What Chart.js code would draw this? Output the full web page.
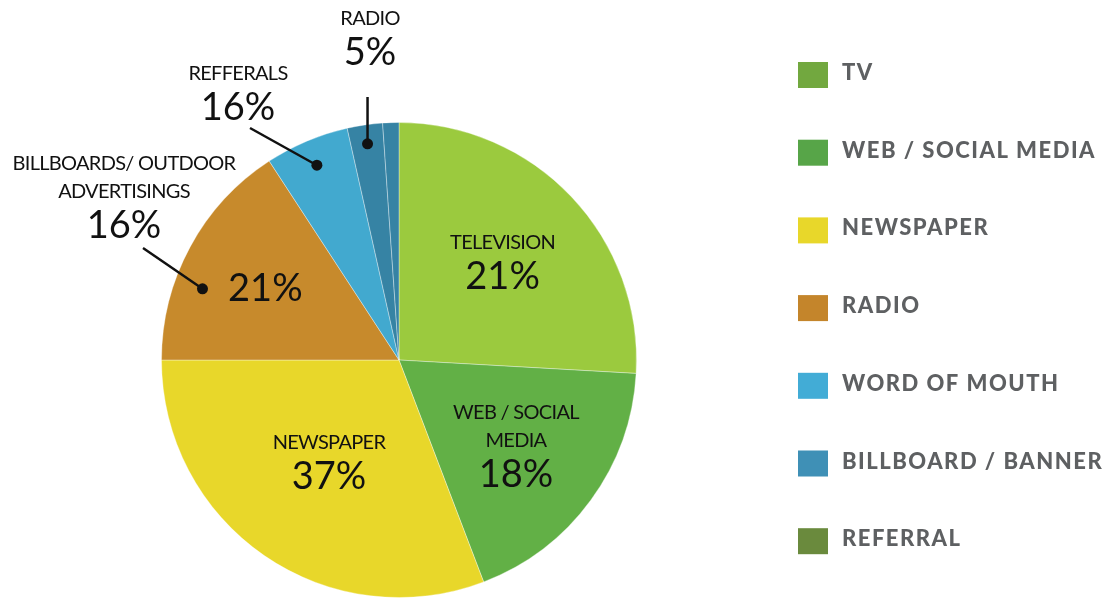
<!DOCTYPE html>
<html>
<head>
<meta charset="utf-8">
<script src="https://cdn.jsdelivr.net/npm/chart.js@4.4.1/dist/chart.umd.min.js"></script>
<style>
  html, body { margin: 0; padding: 0; background: #fff; }
  #wrap { width: 1107px; height: 600px; position: relative; }
</style>
</head>
<body>
<div id="wrap"><canvas id="mediaPie"></canvas></div>
<script>
// legend entries and slice shares
const channels = ['TV', 'WEB / SOCIAL MEDIA', 'NEWSPAPER', 'RADIO', 'WORD OF MOUTH', 'BILLBOARD / BANNER', 'REFERRAL'];
const shares = [25.9, 18.3, 30.8, 15.8, 5.7, 2.4, 1.1];
const sliceColors = ['#9bca3e', '#62b046', '#e8d72a', '#c78a2c', '#42a9cf', '#3683a4', '#3683a4'];
const legendColors = ['#72a83f', '#57a548', '#e8d72a', '#c4852b', '#42acd6', '#3f90b6', '#6a8a3d'];

// text printed inside the slices
const sliceTitles = [['TELEVISION'], ['WEB / SOCIAL', 'MEDIA'], ['NEWSPAPER'], [], [], [], []];
const slicePercents = ['21%', '18%', '37%', '21%', '', '', ''];

// text printed outside, pointing to a slice
const calloutTitles = [null, null, null, ['BILLBOARDS/ OUTDOOR', 'ADVERTISINGS'], ['REFFERALS'], ['RADIO'], null];
const calloutPercents = [null, null, null, '16%', '16%', '5%', null];

const FONT = 'Lato, "Open Sans", sans-serif';

// where labels sit relative to their slice
const insideDist = [0.6, 0.61, 0.52, 0.64];
const calloutLayout = {
  3: { along: 0.35, dist: 0.88, end: [143, 248], x: 124, base: 170 },
  4: { along: 0.5, dist: 0.89, end: [250, 128], x: 238, base: 80 },
  5: { along: 0.5, dist: 0.92, end: null, lineTop: 97, x: 370, base: 25 }
};

function drawBlock(ctx, titles, pct, x, firstBase) {
  ctx.fillStyle = '#111';
  ctx.textAlign = 'center';
  ctx.textBaseline = 'alphabetic';
  let y = firstBase;
  ctx.font = '400 20px ' + FONT;
  ctx.letterSpacing = '-0.7px';
  titles.forEach((t, k) => {
    if (k > 0) y += 28;
    ctx.fillText(t, x, y);
  });
  if (pct) {
    y += titles.length ? 40 : 0;
    ctx.font = '400 38px ' + FONT;
    ctx.letterSpacing = '0px';
    ctx.fillText(pct, x, y);
  }
  ctx.letterSpacing = '0px';
}

const labelPlugin = {
  id: 'labelPlugin',
  afterDatasetsDraw(chart) {
    const ctx = chart.ctx;
    const arcs = chart.getDatasetMeta(0).data;
    ctx.save();

    // labels inside slices
    arcs.forEach((arc, i) => {
      const titles = sliceTitles[i];
      const pct = slicePercents[i];
      if (!pct) return;
      const p = arc.getProps(['x', 'y', 'startAngle', 'endAngle', 'outerRadius'], true);
      const mid = (p.startAngle + p.endAngle) / 2;
      const d = p.outerRadius * insideDist[i];
      const cx = p.x + Math.cos(mid) * d;
      const cy = p.y + Math.sin(mid) * d;
      const h = titles.length ? 14 + (titles.length - 1) * 28 + 40 : 27;
      drawBlock(ctx, titles, pct, cx, cy - h / 2 + (titles.length ? 14 : 27));
    });

    // callouts with leader lines
    Object.keys(calloutLayout).forEach(key => {
      const i = +key;
      const lay = calloutLayout[key];
      const p = arcs[i].getProps(['x', 'y', 'startAngle', 'endAngle', 'outerRadius'], true);
      const a = p.startAngle + (p.endAngle - p.startAngle) * lay.along;
      const dx = p.x + Math.cos(a) * p.outerRadius * lay.dist;
      const dy = p.y + Math.sin(a) * p.outerRadius * lay.dist;
      const end = lay.end || [dx, lay.lineTop];
      ctx.strokeStyle = '#111';
      ctx.lineWidth = 2.5;
      ctx.beginPath();
      ctx.moveTo(dx, dy);
      ctx.lineTo(end[0], end[1]);
      ctx.stroke();
      ctx.fillStyle = '#111';
      ctx.beginPath();
      ctx.arc(dx, dy, 5.5, 0, Math.PI * 2);
      ctx.fill();
      drawBlock(ctx, calloutTitles[i], calloutPercents[i], lay.x, lay.base);
    });

    // legend column on the right
    ctx.textAlign = 'left';
    ctx.textBaseline = 'alphabetic';
    ctx.font = '900 22px ' + FONT;
    ctx.letterSpacing = '1.5px';
    channels.forEach((name, i) => {
      const top = 62 + i * 77.7;
      ctx.fillStyle = legendColors[i];
      ctx.fillRect(798, top, 30, 26);
      ctx.fillStyle = '#5e6062';
      ctx.fillText(name, 842, top + 18);
    });
    ctx.letterSpacing = '0px';
    ctx.restore();
  }
};

new Chart(document.getElementById('mediaPie'), {
  type: 'pie',
  data: {
    labels: channels,
    datasets: [{
      data: shares,
      backgroundColor: sliceColors,
      borderColor: 'rgba(255,255,255,0.35)',
      borderWidth: 1
    }]
  },
  options: {
    responsive: true,
    maintainAspectRatio: false,
    animation: false,
    events: [],
    layout: { padding: { left: 160, right: 469, top: 122, bottom: 2 } },
    plugins: {
      legend: { display: false },
      tooltip: { enabled: false }
    }
  },
  plugins: [labelPlugin]
});
</script>
</body>
</html>
